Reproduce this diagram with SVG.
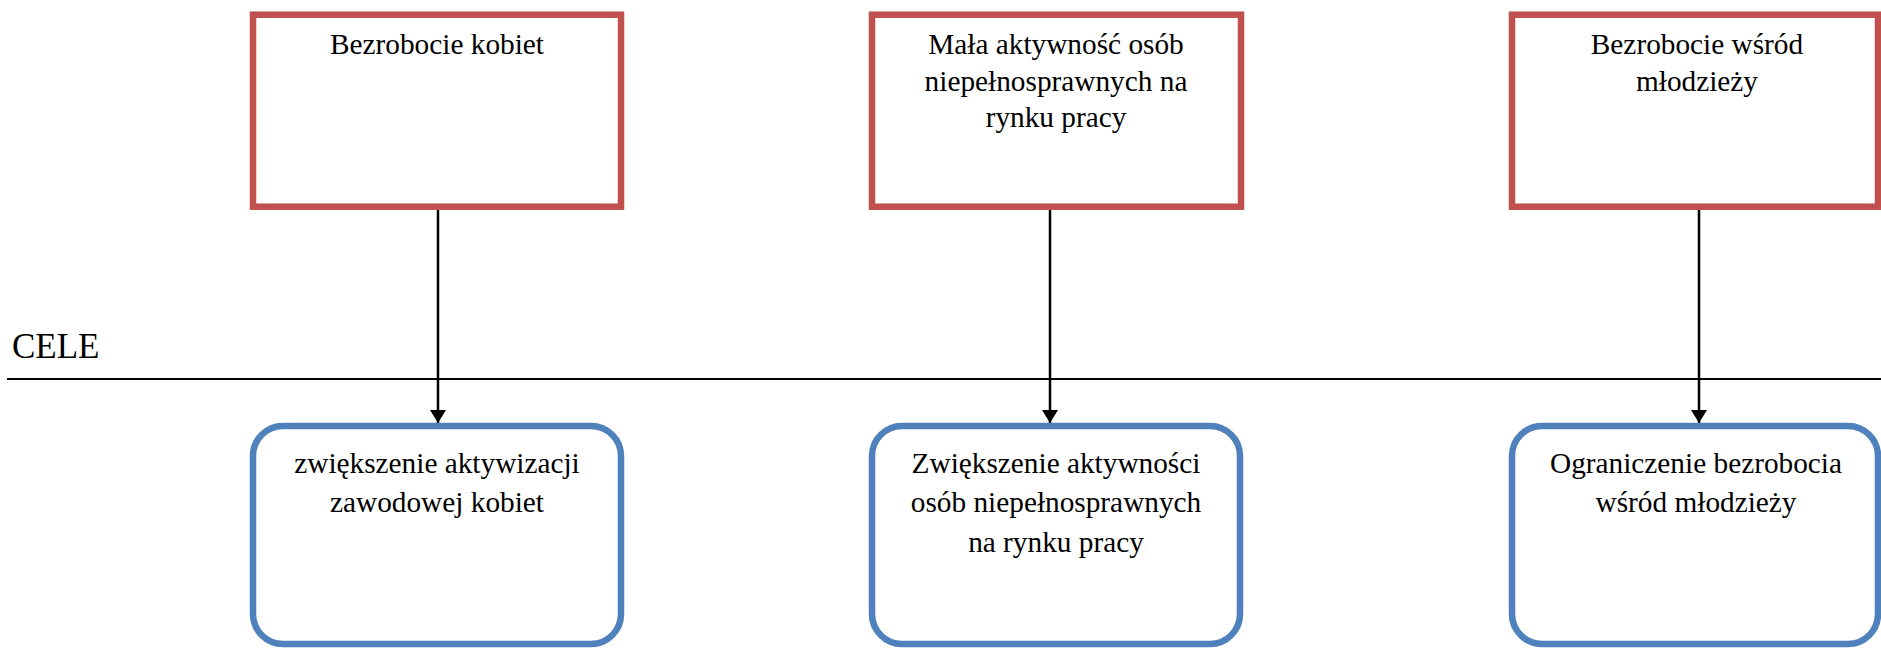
<svg xmlns="http://www.w3.org/2000/svg" width="1881" height="648" viewBox="0 0 1881 648">
<style>
.prob{fill:#fff;stroke:#C0504D;stroke-width:6.5}
.goal{fill:#fff;stroke:#4F81BD;stroke-width:6.5}
.t{font-family:"Liberation Serif","Times New Roman",serif;font-size:29.3px;fill:#000;text-anchor:middle}
.conn{stroke:#000;stroke-width:2.5;fill:none}
</style>
<defs>
<marker id="arr" markerUnits="userSpaceOnUse" markerWidth="14" markerHeight="16" refX="13" refY="8" orient="auto">
<path d="M0,0 L13,8 L0,16 z" fill="#000"/>
</marker>
</defs>
<rect width="1881" height="648" fill="#fff"/>
<g id="label-cele">
<text x="12" y="358" font-family="Liberation Serif, Times New Roman, serif" font-size="35" fill="#000">CELE</text>
<line x1="7" y1="379" x2="1881" y2="379" stroke="#000" stroke-width="2.2"/>
</g>
<g id="connectors">
<line class="conn" x1="438" y1="210" x2="438" y2="423" marker-end="url(#arr)"/>
<line class="conn" x1="1050" y1="210" x2="1050" y2="423" marker-end="url(#arr)"/>
<line class="conn" x1="1699" y1="210" x2="1699" y2="423" marker-end="url(#arr)"/>
</g>
<g id="problem1">
<rect class="prob" x="253" y="14.7" width="368" height="192"/>
<text class="t" x="437" y="54">Bezrobocie kobiet</text>
</g>
<g id="problem2">
<rect class="prob" x="872" y="14.7" width="369" height="192"/>
<text class="t" x="1056" y="54.3">Mała aktywność osób</text>
<text class="t" x="1056" y="90.7">niepełnosprawnych na</text>
<text class="t" x="1056" y="126.7">rynku pracy</text>
</g>
<g id="problem3">
<rect class="prob" x="1512" y="14.7" width="366" height="192"/>
<text class="t" x="1697" y="54">Bezrobocie wśród</text>
<text class="t" x="1697" y="90.7">młodzieży</text>
</g>
<g id="goal1">
<rect class="goal" x="253" y="426" width="368" height="218" rx="30" ry="30"/>
<text class="t" x="437" y="473.3">zwiększenie aktywizacji</text>
<text class="t" x="437" y="512.3">zawodowej kobiet</text>
</g>
<g id="goal2">
<rect class="goal" x="872" y="426" width="368" height="218" rx="30" ry="30"/>
<text class="t" x="1056" y="473.3">Zwiększenie aktywności</text>
<text class="t" x="1056" y="512.3">osób niepełnosprawnych</text>
<text class="t" x="1056" y="551.7">na rynku pracy</text>
</g>
<g id="goal3">
<rect class="goal" x="1512" y="426" width="366" height="218" rx="30" ry="30"/>
<text class="t" x="1696" y="473.3">Ograniczenie bezrobocia</text>
<text class="t" x="1696" y="512.3">wśród młodzieży</text>
</g>
</svg>
